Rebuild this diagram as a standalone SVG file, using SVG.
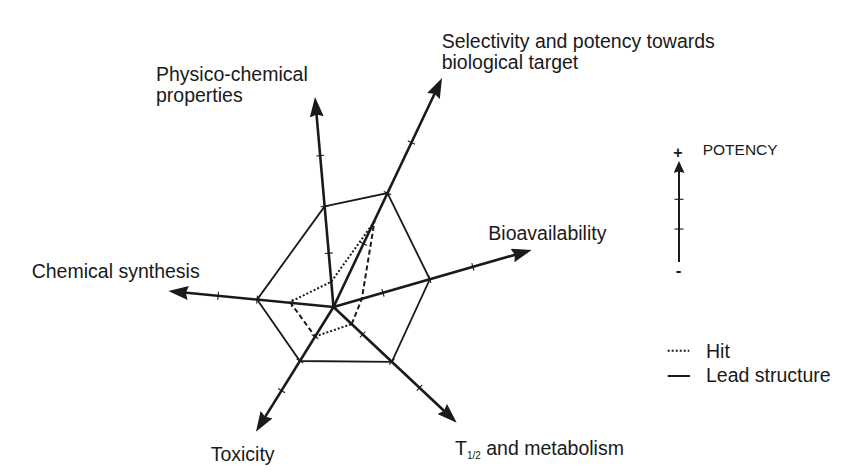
<svg xmlns="http://www.w3.org/2000/svg" width="850" height="475" viewBox="0 0 850 475">
<style>
text{font-family:"Liberation Sans",Arial,sans-serif;fill:#1a1a1a;font-size:19.5px}
.axis{stroke:#1a1a1a;stroke-width:2.6;fill:none;marker-end:url(#ah)}
.tick{stroke:#1a1a1a;stroke-width:1.1;fill:none}
.hex{stroke:#1a1a1a;stroke-width:1.8;fill:none;stroke-linejoin:miter}
.dot{stroke:#1a1a1a;stroke-width:2;fill:none;stroke-dasharray:2 2}
.dash{stroke:#1a1a1a;stroke-width:2;fill:none;stroke-dasharray:5 3}
.solid{stroke:#1a1a1a;stroke-width:2;fill:none}
</style>
<defs>
<marker id="ah" markerUnits="userSpaceOnUse" viewBox="0 0 20 14" markerWidth="20" markerHeight="14" refX="12" refY="7" orient="auto">
<path d="M0,0 L20,7 L0,14 L2.5,7 z" fill="#1a1a1a"/>
</marker>
<marker id="ahs" markerUnits="userSpaceOnUse" viewBox="0 0 12 11" markerWidth="12" markerHeight="11" refX="6" refY="5.5" orient="auto">
<path d="M0,0 L12,5.5 L0,11 L1.5,5.5 z" fill="#1a1a1a"/>
</marker>
</defs>
<rect width="850" height="475" fill="#fff"/>

<g id="lead-structure">
<polygon class="hex" points="324.6,206.4 387.45,193.1 429.8,279.3 391.8,361.8 299.9,361 257.1,299.6"/>
</g>

<g id="hit">
<polyline class="dot" points="374.5,221.3 331.3,281.7 290,302"/>
<polyline class="dash" points="290,302 315,336.5"/>
<polyline class="dot" points="315,336.5 351.7,324.1"/>
<polyline class="dash" points="351.7,324.1 361.8,298.9 374.5,221.3"/>
</g>

<g id="connectors">
<line class="axis" x1="333.5" y1="307" x2="315.7" y2="105"/>
<line class="axis" x1="333.5" y1="307" x2="438.6" y2="85.2"/>
<line class="axis" x1="333.5" y1="307" x2="524" y2="252.2"/>
<line class="axis" x1="333.5" y1="307" x2="450.9" y2="417.2"/>
<line class="axis" x1="333.5" y1="307" x2="260.2" y2="424.9"/>
<line class="axis" x1="333.5" y1="307" x2="176.3" y2="291.8"/>
<g id="ticks">
<line class="tick" x1="324.8" y1="253.55" x2="332.7" y2="252.85"/>
<line class="tick" x1="320.6" y1="206.75" x2="328.6" y2="206.05"/>
<line class="tick" x1="316.2" y1="155.95" x2="324.1" y2="155.25"/>
<line class="tick" x1="359.9" y1="242" x2="367.1" y2="245.4"/>
<line class="tick" x1="383.8" y1="191.4" x2="391.1" y2="194.8"/>
<line class="tick" x1="407.8" y1="140.8" x2="415" y2="144.2"/>
<line class="tick" x1="381.9" y1="289" x2="384.1" y2="296.6"/>
<line class="tick" x1="428.7" y1="275.5" x2="430.9" y2="283.1"/>
<line class="tick" x1="471.8" y1="263.1" x2="474" y2="270.7"/>
<line class="tick" x1="360" y1="337.3" x2="365.4" y2="331.5"/>
<line class="tick" x1="389.1" y1="364.7" x2="394.5" y2="358.9"/>
<line class="tick" x1="416.8" y1="390.7" x2="422.2" y2="384.9"/>
<line class="tick" x1="311.6" y1="334.6" x2="318.4" y2="338.8"/>
<line class="tick" x1="296.5" y1="358.9" x2="303.3" y2="363.1"/>
<line class="tick" x1="278.2" y1="388.5" x2="285" y2="392.7"/>
<line class="tick" x1="291.6" y1="307" x2="292.4" y2="299"/>
<line class="tick" x1="256.7" y1="303.6" x2="257.5" y2="295.6"/>
<line class="tick" x1="217.7" y1="299.8" x2="218.5" y2="291.8"/>
</g>
</g>

<g id="label-selectivity">
<text x="441.7" y="48">Selectivity and potency towards</text>
<text x="441.7" y="68.5">biological target</text>
</g>
<g id="label-physico">
<text x="156" y="80.5">Physico-chemical</text>
<text x="156" y="101.5">properties</text>
</g>
<g id="label-bioavailability"><text x="488.3" y="239.5">Bioavailability</text></g>
<g id="label-synthesis"><text x="31.7" y="277.7">Chemical synthesis</text></g>
<g id="label-toxicity"><text x="210.7" y="461">Toxicity</text></g>
<g id="label-metabolism"><text x="455" y="455">T<tspan font-size="10" dy="3.5">1/2</tspan><tspan dy="-3.5"> and metabolism</tspan></text></g>

<g id="potency-scale">
<line x1="679" y1="262" x2="679" y2="167" stroke="#1a1a1a" stroke-width="2" marker-end="url(#ahs)"/>
<line class="tick" x1="674.5" y1="199.3" x2="683.5" y2="199.3"/>
<line class="tick" x1="674.5" y1="229" x2="683.5" y2="229"/>
<text x="678" y="157.5" font-weight="bold" text-anchor="middle" style="font-size:16px">+</text>
<text x="678.5" y="275.5" font-weight="bold" text-anchor="middle" style="font-size:17px">-</text>
<text x="702.7" y="155" style="font-size:15.5px">POTENCY</text>
</g>

<g id="legend">
<line class="dot" x1="667.7" y1="350.7" x2="689.3" y2="350.7"/>
<text x="706" y="358">Hit</text>
<line class="solid" x1="667.7" y1="376" x2="690" y2="376"/>
<text x="706" y="381.5">Lead structure</text>
</g>
</svg>
